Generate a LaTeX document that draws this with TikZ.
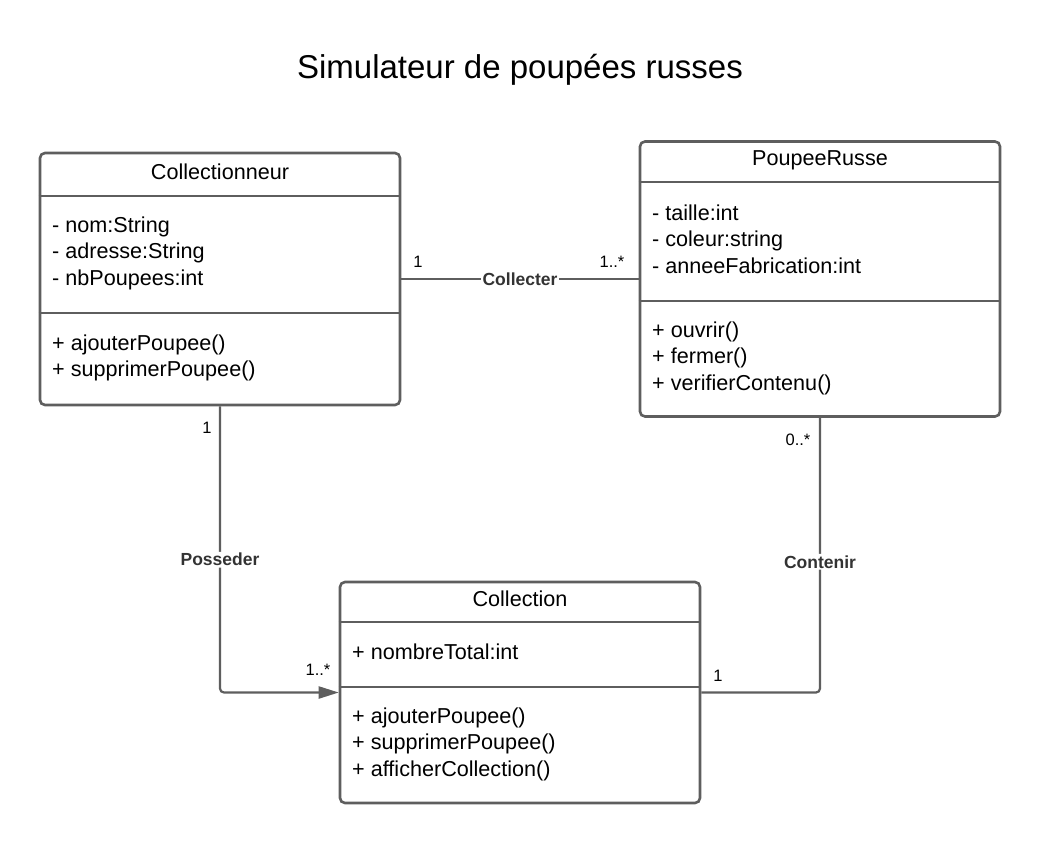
\documentclass[tikz,border=0pt]{standalone}
\usepackage{fontspec}
\setmainfont{Liberation Sans}
\usetikzlibrary{arrows.meta, positioning, calc}
\definecolor{umlline}{HTML}{5E5E5E}
\definecolor{umltext}{HTML}{333333}

\begin{document}
\begin{tikzpicture}[x=1pt, y=-1pt,
  classbox/.style={rectangle, draw=umlline, line width=2.6pt, rounded corners=5pt, minimum width=360pt, minimum height=#1, inner sep=0pt},
  header/.style={font=\fontsize{21.6}{26}\selectfont, text=black, inner sep=0pt},
  members/.style={anchor=west, align=left, font=\fontsize{21.6}{26.5}\selectfont, text=black, inner sep=0pt},
  sep/.style={draw=umlline, line width=2.6pt},
  assoc/.style={draw=umlline, line width=2.2pt, rounded corners=4pt},
  rel/.style={font=\fontsize{17.5}{20}\selectfont\bfseries, text=umltext, fill=white, inner sep=1.5pt},
  mult/.style={font=\fontsize{16.5}{19}\selectfont, text=black, inner sep=0pt},
]
  \fill[white] (0,0) rectangle (1040,844);
  \useasboundingbox (0,0) rectangle (1040,844);

  % Title
  \node[font=\fontsize{33}{40}\selectfont] (title) at (520,70) {Simulateur de poupées russes};

  % Collectionneur
  \node[classbox=252pt] (collectionneur) at (220,279) {};
  \node[header] (collectionneurT) at (220,172) {Collectionneur};
  \draw[sep] (collectionneur.west |- 0,196) -- (collectionneur.east |- 0,196);
  \draw[sep] (collectionneur.west |- 0,313) -- (collectionneur.east |- 0,313);
  \node[members] (collectionneurA) at (52,253) {- nom:String\\- adresse:String\\- nbPoupees:int};
  \node[members] (collectionneurM) at (52,358) {+ ajouterPoupee()\\+ supprimerPoupee()};

  % PoupeeRusse
  \node[classbox=275pt] (poupee) at (820,279) {};
  \node[header] (poupeeT) at (820,160) {PoupeeRusse};
  \draw[sep] (poupee.west |- 0,182) -- (poupee.east |- 0,182);
  \draw[sep] (poupee.west |- 0,301) -- (poupee.east |- 0,301);
  \node[members] (poupeeA) at (652,239) {- taille:int\\- coleur:string\\- anneeFabrication:int};
  \node[members] (poupeeM) at (652,358) {+ ouvrir()\\+ fermer()\\+ verifierContenu()};

  % Collection
  \node[classbox=221pt] (collection) at (520,692.5) {};
  \node[header] (collectionT) at (520,599) {Collection};
  \draw[sep] (collection.west |- 0,622) -- (collection.east |- 0,622);
  \draw[sep] (collection.west |- 0,687) -- (collection.east |- 0,687);
  \node[members] (collectionA) at (352,652) {+ nombreTotal:int};
  \node[members] (collectionM) at (352,744) {+ ajouterPoupee()\\+ supprimerPoupee()\\+ afficherCollection()};

  % Associations
  \draw[assoc] (collectionneur) -- node[rel] (collecter) {Collecter} (poupee);
  \draw[assoc, -{Triangle[length=20pt, width=12pt]}] (collectionneur.south) |- node[rel, pos=0.268] (posseder) {Posseder} (collection.west);
  \draw[assoc] (poupee.south) |- node[rel, pos=0.262] (contenir) {Contenir} (collection.east);

  % Multiplicities
  \node[mult] (mColl) at (418,262) {1};
  \node[mult] (mPoup) at (612,262) {1..*};
  \node[mult] (mPossA) at (207,428) {1};
  \node[mult] (mPossB) at (318,670) {1..*};
  \node[mult] (mContA) at (798,440) {0..*};
  \node[mult] (mContB) at (718,676) {1};
\end{tikzpicture}
\end{document}
